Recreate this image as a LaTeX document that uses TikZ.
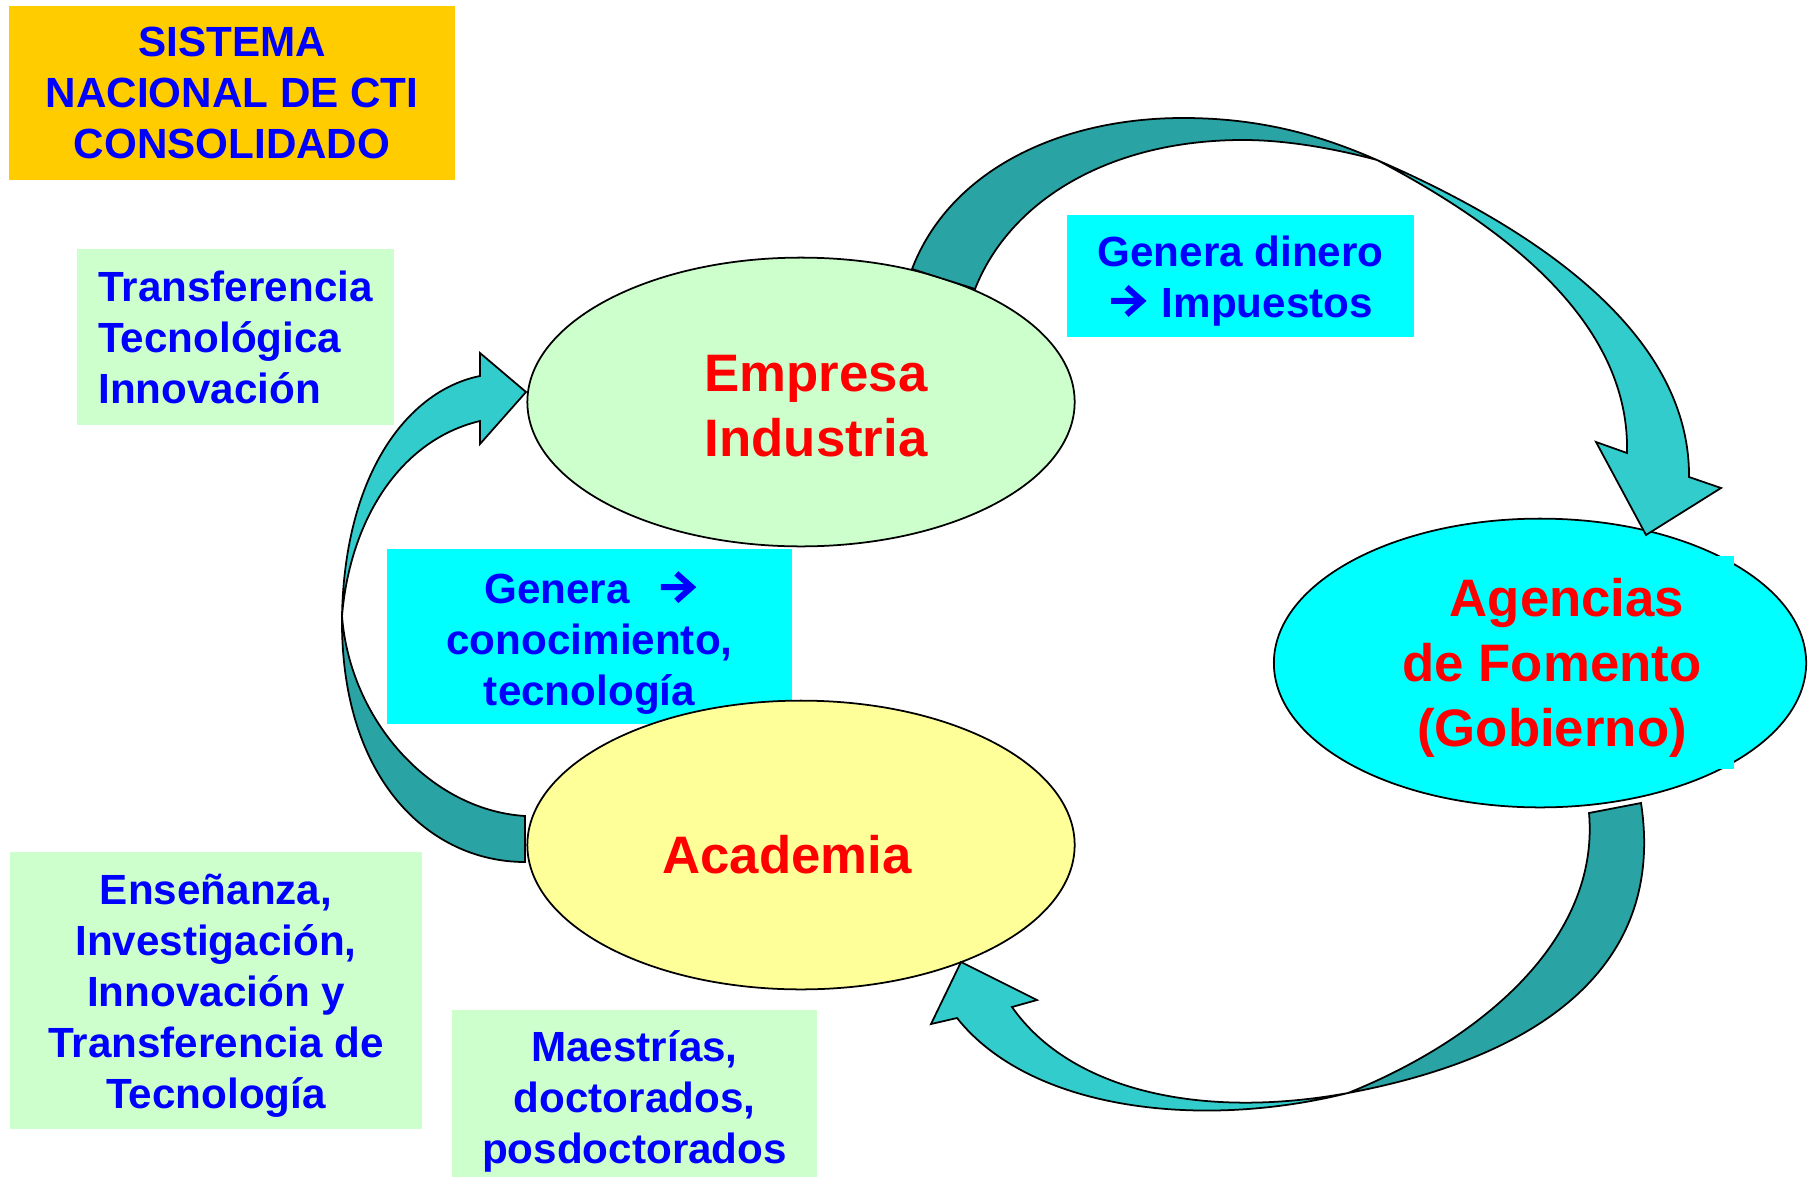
\documentclass[tikz,border=0pt]{standalone}
\usepackage{fontspec}
\setmainfont{Liberation Sans}
\usetikzlibrary{shapes.geometric}
\definecolor{naranja}{HTML}{FFCC00}
\definecolor{verdeclaro}{HTML}{CCFFCC}
\definecolor{amarillo}{HTML}{FFFF99}
\definecolor{celeste}{HTML}{00FFFF}
\definecolor{tealosc}{HTML}{29A3A3}
\definecolor{tealcla}{HTML}{33CCCC}
\definecolor{azul}{HTML}{0000FF}
\definecolor{rojo}{HTML}{FF0000}
\newcommand{\flechita}{\tikz[baseline=0pt]\draw[azul,line width=1.7pt,line join=miter] (0pt,4.7pt) -- (8.8pt,4.7pt) (4.4pt,8.6pt) -- (8.8pt,4.7pt) -- (4.4pt,0.8pt);}

\begin{document}
\begin{tikzpicture}[x=0.01cm,y=-0.01cm,
	caja/.style={rectangle,inner sep=0pt,align=center,text=azul,
		font=\fontsize{12}{14.5}\selectfont\bfseries},
	burbuja/.style={ellipse,draw=black,line width=0.5pt,inner sep=0pt,
		minimum height=2.886cm},
	rotulo/.style={align=center,text=rojo,font=\fontsize{15}{18.4}\selectfont\bfseries},
	flecha/.style={draw=black,line width=0.5pt,line join=miter}]
		%%%%% START %%%%%
		\useasboundingbox (0,0) rectangle (1810,1179);
		\fill[white] (0,0) rectangle (1810,1179);
		
		\node[caja,fill=naranja,minimum width=4.46cm,minimum height=1.73cm] (titulo) at (232,93) {SISTEMA\\NACIONAL DE CTI\\CONSOLIDADO};
		\node[caja,fill=verdeclaro,align=left,minimum width=3.17cm,minimum height=1.75cm] (transferencia) at (235.5,337) {Transferencia\\Tecnológica\\Innovación};
		
		\node[burbuja,fill=verdeclaro,minimum width=5.47cm] (empresa) at (801,402) {};
		\node[rotulo] (empresatxt) at (816,406) {Empresa\\Industria};
		
		\node[caja,fill=celeste,minimum width=4.05cm,minimum height=1.75cm] (conocimiento) at (589.5,636.5) {};
		\node[caja] (conocimientotxt) at (589.5,642.5) {Genera\hspace{8pt}\flechita\\conocimiento,\\tecnología};
		
		\node[burbuja,fill=amarillo,minimum width=5.47cm] (academia) at (801,845) {};
		\node[rotulo] (academiatxt) at (787,855) {Academia};
		
		\node[burbuja,fill=celeste,minimum width=5.32cm] (agencias) at (1540,663) {};
		\fill[celeste] (1370,556) rectangle (1734,769);
		\node[rotulo] (agenciastxt) at (1552,668) {\hspace*{0.3cm}Agencias\\de Fomento\\(Gobierno)};
		
		\node[caja,fill=celeste,minimum width=3.47cm,minimum height=1.22cm] (dinero) at (1240.5,276) {};
		\node[caja] (dinerotxt) at (1240.5,281) {Genera dinero\\\flechita\hspace{4.8pt}Impuestos};
		\node[caja,fill=verdeclaro,minimum width=4.12cm,minimum height=2.77cm] (ensenanza) at (216,990.5) {};
		\node[caja] (ensenanzatxt) at (216,995.5) {Enseñanza,\\Investigación,\\Innovación y\\Transferencia de\\Tecnología};
		\node[caja,fill=verdeclaro,minimum width=3.65cm,minimum height=1.67cm] (maestrias) at (634.5,1093.5) {};
		\node[caja] (maestriastxt) at (634.5,1101.5) {Maestrías,\\doctorados,\\posdoctorados};
		
		% empresa -> agencias
		\filldraw[flecha,fill=tealosc] (912,269) .. controls (950,170) and (1060,118) .. (1183,118)
			.. controls (1260,118) and (1320,135) .. (1377,160)
			.. controls (1340,150) and (1290,140) .. (1243,140)
			.. controls (1110,140) and (1010,200) .. (975,289) -- cycle;
		\filldraw[flecha,fill=tealcla] (1377,160) .. controls (1550,235) and (1690,340) .. (1689,477)
			-- (1721,488) -- (1646,535) -- (1596,442) -- (1627,453)
			.. controls (1630,330) and (1520,235) .. (1377,160) -- cycle;
		
		% academia -> empresa
		\filldraw[flecha,fill=tealosc] (525,862) .. controls (430,862) and (340,780) .. (342,616)
			.. controls (350,720) and (430,810) .. (525,816) -- cycle;
		\filldraw[flecha,fill=tealcla] (342,616) .. controls (345,470) and (410,390) .. (480,376)
			-- (480,353) -- (526,392) -- (480,444) -- (480,421)
			.. controls (400,440) and (350,520) .. (342,616) -- cycle;
		
		% agencias -> academia
		\filldraw[flecha,fill=tealosc] (1641,803) .. controls (1665,960) and (1550,1055) .. (1348,1093)
			.. controls (1480,1040) and (1600,940) .. (1589,813) -- cycle;
		\filldraw[flecha,fill=tealcla] (1348,1093) .. controls (1200,1130) and (1030,1110) .. (957,1018)
			-- (931,1024) -- (961,962) -- (1037,1000) -- (1012,1007)
			.. controls (1070,1090) and (1200,1120) .. (1348,1093) -- cycle;
		%%%%% END %%%%%
\end{tikzpicture}
\end{document}
